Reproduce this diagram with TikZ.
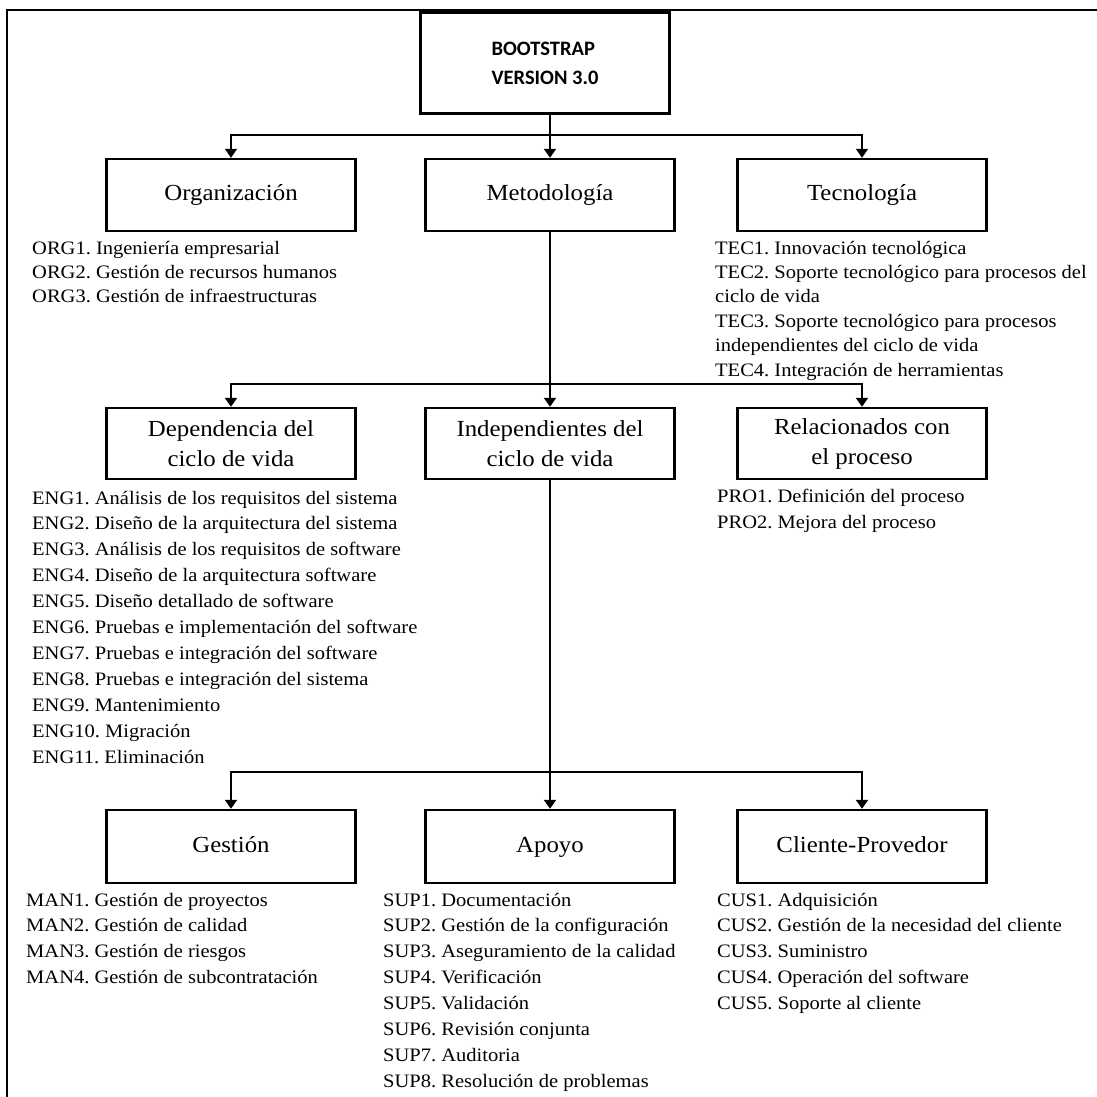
\documentclass[tikz,border=0pt]{standalone}
\usepackage{fontspec}
\setmainfont{Liberation Serif}[FakeStretch=1.08]
\newfontfamily\headfont{Carlito}
\usetikzlibrary{arrows.meta}
\frenchspacing
\begin{document}
\begin{tikzpicture}[x=1pt,y=-1pt,
  box/.style={draw, line width=2.4pt, minimum width=249pt, inner sep=0pt,
    align=center, font=\fontsize{23}{30}\selectfont},
  single/.style={box, text height=17pt, text depth=6pt},
  link/.style={line width=2pt, -{Triangle[length=9pt,width=12pt]}},
  list/.style={anchor=base west, inner sep=0pt, align=left},
  toplist/.style={list, font=\fontsize{19}{24.4}\selectfont},
  lowlist/.style={list, font=\fontsize{19}{25.9}\selectfont}
]
\useasboundingbox (0,0) rectangle (1097,1097);
\clip (0,0) rectangle (1097,1097);

% outer frame (runs past the page on the right and bottom)
\draw[line width=2.6pt] (7,1130) -- (7,10) -- (1130,10);

% root
\node[box, minimum height=101pt, align=left,
  font=\headfont\bfseries\fontsize{20.5}{29}\selectfont] (top) at (545,63)
  {BOOTSTRAP\\VERSION 3.0};

% first level
\node[single, minimum height=72pt] (org)  at (231,195) {Organización};
\node[single, minimum height=72pt] (meto) at (550,195) {Metodología};
\node[single, minimum height=72pt] (tec)  at (862,195) {Tecnología};

% second level
\node[box, minimum height=71pt] (dep)   at (231,443.5) {Dependencia del\\ciclo de vida};
\node[box, minimum height=71pt] (indep) at (550,443.5) {Independientes del\\ciclo de vida};
\node[box, minimum height=71pt] (rel)   at (862,443.5) {Relacionados con\\el proceso};

% third level
\node[single, minimum height=73pt] (ges) at (231,846.5) {Gestión};
\node[single, minimum height=73pt] (apo) at (550,846.5) {Apoyo};
\node[single, minimum height=73pt] (cli) at (862,846.5) {Cliente-Provedor};

% junctions on the spine
\coordinate (j1) at (550,135);
\coordinate (j2) at (550,384);
\coordinate (j3) at (550,772);
\coordinate (r0) at (550,115);

\draw[link] (r0) -- (meto.north);
\draw[link, line width=1.4pt] (j1) -| (org.north);
\draw[link, line width=1.4pt] (j1) -| (tec.north);

\draw[link] (meto.south) -- (indep.north);
\draw[link] (j2) -| (dep.north);
\draw[link] (j2) -| (rel.north);

\draw[link] (indep.south) -- (apo.north);
\draw[link] (j3) -| (ges.north);
\draw[link] (j3) -| (cli.north);

% process lists (each node sits on the baseline of its last line)
\node[toplist] (orglist) at (32,302.8) {%
ORG1. Ingeniería empresarial\\
ORG2. Gestión de recursos humanos\\
ORG3. Gestión de infraestructuras};

\node[toplist] (teclist) at (715,376) {%
TEC1. Innovación tecnológica\\
TEC2. Soporte tecnológico para procesos del\\
ciclo de vida\\
TEC3. Soporte tecnológico para procesos\\
independientes del ciclo de vida\\
TEC4. Integración de herramientas};

\node[lowlist] (englist) at (32,763) {%
ENG1. Análisis de los requisitos del sistema\\
ENG2. Diseño de la arquitectura del sistema\\
ENG3. Análisis de los requisitos de software\\
ENG4. Diseño de la arquitectura software\\
ENG5. Diseño detallado de software\\
ENG6. Pruebas e implementación del software\\
ENG7. Pruebas e integración del software\\
ENG8. Pruebas e integración del sistema\\
ENG9. Mantenimiento\\
ENG10. Migración\\
ENG11. Eliminación};

\node[lowlist] (prolist) at (717,528.5) {%
PRO1. Definición del proceso\\
PRO2. Mejora del proceso};

\node[lowlist] (manlist) at (26,983.7) {%
MAN1. Gestión de proyectos\\
MAN2. Gestión de calidad\\
MAN3. Gestión de riesgos\\
MAN4. Gestión de subcontratación};

\node[lowlist] (suplist) at (383,1087.3) {%
SUP1. Documentación\\
SUP2. Gestión de la configuración\\
SUP3. Aseguramiento de la calidad\\
SUP4. Verificación\\
SUP5. Validación\\
SUP6. Revisión conjunta\\
SUP7. Auditoria\\
SUP8. Resolución de problemas};

\node[lowlist] (cuslist) at (717,1009.6) {%
CUS1. Adquisición\\
CUS2. Gestión de la necesidad del cliente\\
CUS3. Suministro\\
CUS4. Operación del software\\
CUS5. Soporte al cliente};
\end{tikzpicture}
\end{document}
